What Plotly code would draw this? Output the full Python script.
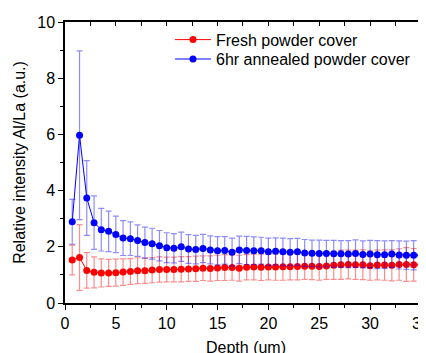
import plotly.graph_objects as go

depth = [0.71, 1.43, 2.14, 2.86, 3.57, 4.29, 5.0, 5.71, 6.43, 7.14, 7.86, 8.57, 9.29,
         10.0, 10.71, 11.43, 12.14, 12.86, 13.57, 14.29, 15.0, 15.71, 16.43, 17.14,
         17.86, 18.57, 19.29, 20.0, 20.71, 21.43, 22.14, 22.86, 23.57, 24.29, 25.0,
         25.71, 26.43, 27.14, 27.86, 28.57, 29.29, 30.0, 30.71, 31.43, 32.14, 32.86,
         33.57, 34.29, 35.0]

fresh = [1.53, 1.62, 1.16, 1.09, 1.07, 1.07, 1.08, 1.10, 1.12, 1.15, 1.15, 1.17, 1.19,
         1.19, 1.19, 1.20, 1.21, 1.22, 1.24, 1.23, 1.25, 1.26, 1.26, 1.24, 1.27, 1.28,
         1.27, 1.28, 1.28, 1.29, 1.29, 1.30, 1.31, 1.31, 1.30, 1.32, 1.34, 1.36, 1.37,
         1.36, 1.36, 1.33, 1.35, 1.35, 1.34, 1.37, 1.37, 1.36, 1.36]
fresh_err = [0.53, 1.17, 0.63, 0.55, 0.50, 0.48, 0.48, 0.47, 0.46, 0.46, 0.45, 0.45, 0.45,
             0.44, 0.44, 0.45, 0.44, 0.45, 0.44, 0.45, 0.45, 0.46, 0.45, 0.46, 0.45, 0.46,
             0.47, 0.46, 0.47, 0.48, 0.47, 0.48, 0.47, 0.48, 0.49, 0.48, 0.50, 0.52, 0.51,
             0.52, 0.53, 0.52, 0.53, 0.54, 0.55, 0.56, 0.60, 0.58, 0.62]

annealed = [2.89, 5.97, 3.74, 2.86, 2.61, 2.55, 2.44, 2.31, 2.29, 2.22, 2.15, 2.11, 2.04,
            1.97, 1.95, 2.00, 1.92, 1.90, 1.94, 1.89, 1.86, 1.87, 1.81, 1.89, 1.87, 1.86,
            1.86, 1.82, 1.84, 1.82, 1.81, 1.82, 1.78, 1.77, 1.76, 1.76, 1.75, 1.75, 1.74,
            1.76, 1.73, 1.74, 1.72, 1.72, 1.74, 1.71, 1.70, 1.70, 1.70]
annealed_err = [0.80, 3.00, 1.33, 0.95, 0.76, 0.72, 0.65, 0.62, 0.60, 0.56, 0.55, 0.55, 0.54,
                0.53, 0.52, 0.52, 0.51, 0.51, 0.50, 0.50, 0.50, 0.49, 0.50, 0.49, 0.50, 0.49,
                0.48, 0.49, 0.48, 0.49, 0.48, 0.48, 0.48, 0.47, 0.48, 0.47, 0.48, 0.47, 0.48,
                0.49, 0.48, 0.49, 0.50, 0.49, 0.48, 0.50, 0.50, 0.52, 0.60]

FONT = "Liberation Sans, Arial, sans-serif"
X_RANGE = [0, 35.6]
Y_RANGE = [0, 10]

fig = go.Figure()
fig.add_trace(go.Scatter(
    x=depth, y=fresh, name="Fresh powder cover", mode="lines+markers",
    line=dict(color="#ff0000", width=1),
    marker=dict(color="#ff0000", size=7),
    error_y=dict(type="data", array=fresh_err, color="rgba(255,0,0,0.45)",
                 thickness=1.2, width=3),
    legend="legend",
))
fig.add_trace(go.Scatter(
    x=depth, y=annealed, name="6hr annealed powder cover", mode="lines+markers",
    line=dict(color="#0000ff", width=1),
    marker=dict(color="#0000ff", size=7),
    error_y=dict(type="data", array=annealed_err, color="rgba(0,0,255,0.45)",
                 thickness=1.2, width=3),
    legend="legend2",
))
# empty trace so the mirrored top/right axes get drawn
fig.add_trace(go.Scatter(x=[None], y=[None], xaxis="x2", yaxis="y2",
                         showlegend=False, hoverinfo="skip"))

leg_common = dict(xanchor="left", yanchor="middle", bgcolor="rgba(0,0,0,0)",
                  font=dict(size=16, family=FONT), itemwidth=36)

fig.update_layout(
    width=426, height=353,
    margin=dict(l=57, r=7, t=14, b=58, autoexpand=False),
    paper_bgcolor="white", plot_bgcolor="white",
    font=dict(family=FONT, size=16, color="black"),
    showlegend=True,
    legend=dict(x=0.29, y=0.937, **leg_common),
    legend2=dict(x=0.29, y=0.868, **leg_common),
    xaxis=dict(range=X_RANGE, showgrid=False, zeroline=False, automargin=False,
               showline=True, linecolor="black", linewidth=1.5,
               ticks="outside", ticklen=5, tickwidth=1.2, tickcolor="black",
               dtick=5, tick0=0,
               minor=dict(dtick=2.5, ticks="outside", ticklen=3, tickcolor="black"),
               title=dict(text="Depth (um)", standoff=11, font=dict(size=16))),
    yaxis=dict(range=Y_RANGE, showgrid=False, zeroline=False, automargin=False,
               showline=True, linecolor="black", linewidth=1.5,
               ticks="outside", ticklen=5, tickwidth=1.2, tickcolor="black",
               dtick=2, tick0=0,
               minor=dict(dtick=1, ticks="outside", ticklen=3, tickcolor="black"),
               title=dict(text="Relative intensity Al/La (a.u.)", standoff=8,
                          font=dict(size=16))),
    xaxis2=dict(overlaying="x", side="top", anchor="y2", range=X_RANGE,
                automargin=False,
                showgrid=False, zeroline=False, showline=True, linecolor="black",
                linewidth=1.5, ticks="inside", ticklen=4, tickcolor="black",
                dtick=2.5, tick0=0, showticklabels=False),
    yaxis2=dict(overlaying="y", side="right", anchor="x2", range=Y_RANGE,
                automargin=False,
                showgrid=False, zeroline=False, showline=False,
                ticks="inside", ticklen=4, tickcolor="black",
                dtick=2, tick0=0, showticklabels=False),
)

fig.write_html("out.html")
